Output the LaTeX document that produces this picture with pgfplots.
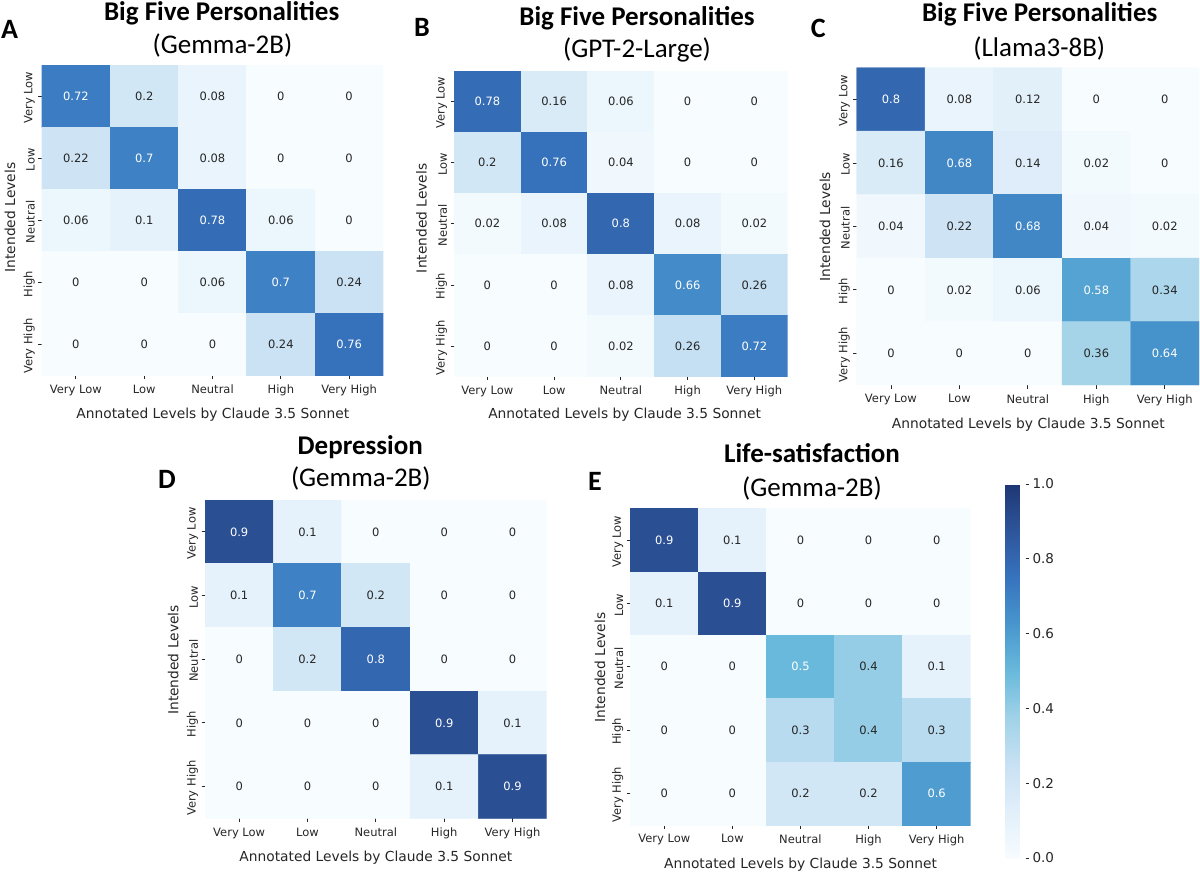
\documentclass[border=0pt]{standalone}
\usepackage{pgfplots}
\pgfplotsset{compat=1.18}
\usepackage{pgfplotstable}
\usepackage{fontspec}
\setmainfont{DejaVu Sans}
\newfontfamily\calfont{Carlito}
\definecolor{txt}{RGB}{38,38,38}

\pgfplotstableread{
x y c
0 0 0.72
1 0 0.2
2 0 0.08
3 0 0
4 0 0
0 1 0.22
1 1 0.7
2 1 0.08
3 1 0
4 1 0
0 2 0.06
1 2 0.1
2 2 0.78
3 2 0.06
4 2 0
0 3 0
1 3 0
2 3 0.06
3 3 0.7
4 3 0.24
0 4 0
1 4 0
2 4 0
3 4 0.24
4 4 0.76
}\tabA

\pgfplotstableread{
x y c
0 0 0.78
1 0 0.16
2 0 0.06
3 0 0
4 0 0
0 1 0.2
1 1 0.76
2 1 0.04
3 1 0
4 1 0
0 2 0.02
1 2 0.08
2 2 0.8
3 2 0.08
4 2 0.02
0 3 0
1 3 0
2 3 0.08
3 3 0.66
4 3 0.26
0 4 0
1 4 0
2 4 0.02
3 4 0.26
4 4 0.72
}\tabB

\pgfplotstableread{
x y c
0 0 0.8
1 0 0.08
2 0 0.12
3 0 0
4 0 0
0 1 0.16
1 1 0.68
2 1 0.14
3 1 0.02
4 1 0
0 2 0.04
1 2 0.22
2 2 0.68
3 2 0.04
4 2 0.02
0 3 0
1 3 0.02
2 3 0.06
3 3 0.58
4 3 0.34
0 4 0
1 4 0
2 4 0
3 4 0.36
4 4 0.64
}\tabC

\pgfplotstableread{
x y c
0 0 0.9
1 0 0.1
2 0 0
3 0 0
4 0 0
0 1 0.1
1 1 0.7
2 1 0.2
3 1 0
4 1 0
0 2 0
1 2 0.2
2 2 0.8
3 2 0
4 2 0
0 3 0
1 3 0
2 3 0
3 3 0.9
4 3 0.1
0 4 0
1 4 0
2 4 0
3 4 0.1
4 4 0.9
}\tabD

\pgfplotstableread{
x y c
0 0 0.9
1 0 0.1
2 0 0
3 0 0
4 0 0
0 1 0.1
1 1 0.9
2 1 0
3 1 0
4 1 0
0 2 0
1 2 0
2 2 0.5
3 2 0.4
4 2 0.1
0 3 0
1 3 0
2 3 0.3
3 3 0.4
4 3 0.3
0 4 0
1 4 0
2 4 0.2
3 4 0.2
4 4 0.6
}\tabE

\pgfplotsset{
  colormap={refblues}{rgb255(0)=(247,252,255) rgb255(1)=(225,239,250) rgb255(2)=(200,225,243) rgb255(3)=(160,210,232) rgb255(4)=(105,185,220) rgb255(5)=(72,150,205) rgb255(6)=(55,115,190) rgb255(7)=(45,85,155) rgb255(8)=(30,55,115)},
  hm/.style={
    scale only axis, anchor=south west,
    xmin=-0.5, xmax=4.5, ymin=-0.5, ymax=4.5, y dir=reverse,
    xtick={0,...,4}, ytick={0,...,4},
    xticklabels={Very Low,Low,Neutral,High,Very High},
    yticklabels={Very Low,Low,Neutral,High,Very High},
    axis x line*=bottom, axis y line*=left,
    axis line style={draw=none},
    tick align=outside, major tick length=3.5pt,
    tick style={draw=txt, line width=0.8pt},
    ticklabel style={font=\fontsize{11.5}{13}\selectfont, text=txt},
    xticklabel style={yshift=-2.5pt},
    yticklabel style={rotate=90, anchor=south, xshift=-1.5pt},
    colormap name=refblues,
    point meta min=0, point meta max=1,
  },
}
\newcommand\cells[1]{%
  \addplot[matrix plot*, mesh/cols=5, point meta=explicit] table[x=x,y=y,meta=c]{#1};
  \addplot[only marks, mark=none, point meta=explicit symbolic,
    nodes near coords={\ifdim\pgfplotspointmeta pt>0.45pt\color{white}\else\color{txt}\fi\pgfplotspointmeta},
    nodes near coords style={anchor=center, font=\fontsize{11.5}{13}\selectfont}]
    table[x=x,y=y,meta=c]{#1};
}
\tikzset{
  ttl/.style={font=\calfont\bfseries\fontsize{27}{30}\selectfont, anchor=base, text=black},
  sub/.style={font=\calfont\fontsize{27}{30}\selectfont, anchor=base, text=black},
  let/.style={font=\calfont\bfseries\fontsize{28}{30}\selectfont, anchor=base west, inner sep=0pt, text=black},
  xl/.style={font=\fontsize{13.8}{16}\selectfont, anchor=base, text=txt},
  yl/.style={font=\fontsize{13.8}{16}\selectfont, anchor=base, rotate=90, text=txt},
}

\begin{document}
\begin{tikzpicture}
\useasboundingbox (0,0) rectangle (1200pt,-871pt);

% Panel A
\begin{axis}[hm, at={(41.7pt,-375.7pt)}, width=341.6pt, height=310.7pt]
\cells{\tabA}
\end{axis}
\node[let] at (1pt,-38.3pt) {A};
\node[ttl] at (221.7pt,-20pt) {Big Five Personalities};
\node[sub] at (222.5pt,-53.3pt) {(Gemma-2B)};
\node[xl] at (212.8pt,-418.3pt) {Annotated Levels by Claude 3.5 Sonnet};
\node[yl] at (15pt,-217.5pt) {Intended Levels};

% Panel B
\begin{axis}[hm, at={(454pt,-376.7pt)}, width=333.7pt, height=306pt]
\cells{\tabB}
\end{axis}
\node[let] at (414pt,-36pt) {B};
\node[ttl] at (637pt,-25.5pt) {Big Five Personalities};
\node[sub] at (637pt,-57.5pt) {(GPT-2-Large)};
\node[xl] at (624.7pt,-418.3pt) {Annotated Levels by Claude 3.5 Sonnet};
\node[yl] at (426.7pt,-218.3pt) {Intended Levels};

% Panel C
\begin{axis}[hm, at={(856.7pt,-385pt)}, width=342.3pt, height=317.3pt]
\cells{\tabC}
\end{axis}
\node[let] at (810.7pt,-37.3pt) {C};
\node[ttl] at (1039.7pt,-21.7pt) {Big Five Personalities};
\node[sub] at (1039.3pt,-56.7pt) {(Llama3-8B)};
\node[xl] at (1028.3pt,-428.3pt) {Annotated Levels by Claude 3.5 Sonnet};
\node[yl] at (830pt,-226.7pt) {Intended Levels};

% Panel D
\begin{axis}[hm, at={(205pt,-818.3pt)}, width=341.7pt, height=318.3pt]
\cells{\tabD}
\end{axis}
\node[let] at (158pt,-488.3pt) {D};
\node[ttl] at (360.3pt,-454pt) {Depression};
\node[sub] at (360.8pt,-486.7pt) {(Gemma-2B)};
\node[xl] at (375.8pt,-861.7pt) {Annotated Levels by Claude 3.5 Sonnet};
\node[yl] at (178.3pt,-660pt) {Intended Levels};

% Panel E
\begin{axis}[hm, at={(630.2pt,-825pt)}, width=340.5pt, height=316.5pt,
  colorbar,
  colorbar style={
    at={(997pt,-484pt)}, anchor=north west,
    scale only axis, width=20pt, height=374pt,
    ymin=0, ymax=1,
    ytick={0,0.2,0.4,0.6,0.8,1.0},
    ytick pos=right, yticklabel pos=right,
    axis line style={draw=none},
    tick align=outside, major tick length=3.5pt,
    tick style={draw=txt, line width=0.8pt},
    yticklabel style={font=\fontsize{13.5}{16}\selectfont, text=txt,
      /pgf/number format/.cd, fixed, fixed zerofill, precision=1, assume math mode=true},
  }]
\cells{\tabE}
\end{axis}
\node[let] at (588pt,-490pt) {E};
\node[ttl] at (812pt,-462.3pt) {Life-satisfaction};
\node[sub] at (812pt,-496.7pt) {(Gemma-2B)};
\node[xl] at (800.5pt,-868.3pt) {Annotated Levels by Claude 3.5 Sonnet};
\node[yl] at (605pt,-667.5pt) {Intended Levels};
\end{tikzpicture}
\end{document}
